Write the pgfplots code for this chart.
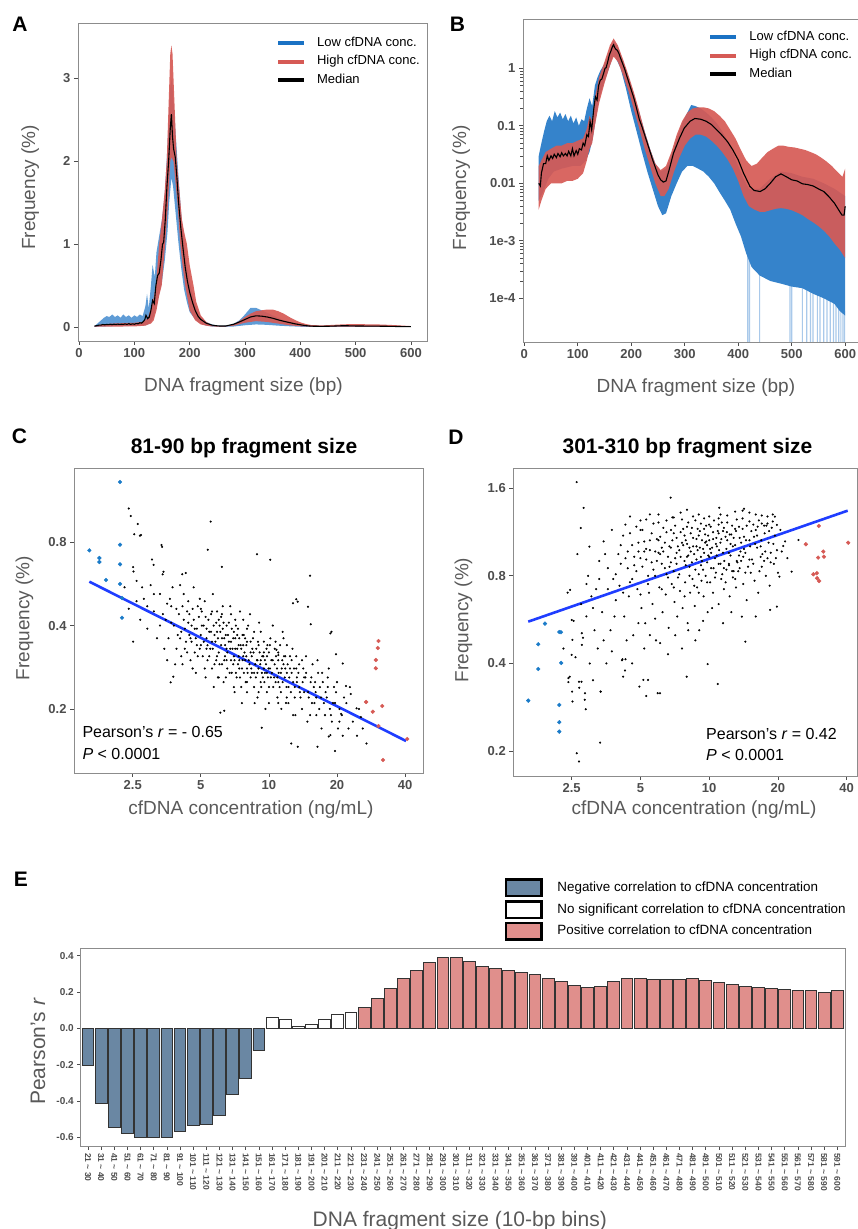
\documentclass[border=0pt]{standalone}
\usepackage{pgfplots}
\pgfplotsset{compat=1.18}
\usepackage{fontspec}
\setmainfont{Liberation Sans}
\definecolor{lowc}{HTML}{1A72C4}
\definecolor{highc}{HTML}{D65A55}
\definecolor{negc}{HTML}{6A87A3}
\definecolor{posc}{HTML}{E08F8C}
\definecolor{tickc}{HTML}{4D4D4D}
\definecolor{labc}{HTML}{595959}
\definecolor{framec}{HTML}{8C8C8C}
\definecolor{regc}{HTML}{1F3DFF}
\definecolor{dotblue}{HTML}{1A7BC8}
\definecolor{dotred}{HTML}{D65A55}
\definecolor{spikec}{HTML}{A9C9EA}
\newcommand\tld{\textasciitilde}
\pgfplotsset{
 base/.style={scale only axis, axis line style={draw=framec, line width=0.7pt},
   tick align=outside, tick pos=left, major tick length=4pt,
   tick style={draw=tickc, line width=0.7pt},
   ticklabel style={font=\fontsize{13}{13}\selectfont\bfseries, text=tickc},
   /pgf/number format/assume math mode=true,
   label style={font=\fontsize{19}{19}\selectfont, text=labc}},
 lineleg/.style={legend style={draw=none, fill=none, inner sep=0pt, row sep=4.5pt,
   font=\fontsize{13}{13}\selectfont, nodes={inner sep=1pt, text height=9pt, text depth=3pt},
   /tikz/every odd column/.append style={column sep=10pt}}, legend cell align=left},
 blackdots/.style={only marks, mark=*, mark size=0.85pt, mark options={draw=none, fill=black}},
 bluedots/.style={only marks, mark=*, mark size=1.9pt, color=dotblue, mark options={draw=none, fill=dotblue}},
 reddots/.style={only marks, mark=*, mark size=1.9pt, color=dotred, mark options={draw=none, fill=dotred}},
}
\begin{document}
\begin{tikzpicture}
\path[use as bounding box] (0pt,0pt) rectangle (858pt,1229pt);
% ---------------- Panel A ----------------
\begin{axis}[base, lineleg, at={(78pt,888pt)}, anchor=south west, width=349pt, height=318pt,
  xmin=-1.8, xmax=629, ymin=-0.17, ymax=3.67, xtick={0,100,...,600}, ytick={0,1,2,3},
  xlabel={DNA fragment size (bp)}, ylabel={Frequency (\%)},
  xlabel style={at={(axis description cs:0.474,-0.160)}, anchor=base},
  ylabel style={at={(axis description cs:-0.1232,0.483)}, anchor=base},
  legend style={at={(axis description cs:0.567,0.959)}, anchor=north west}]
\addplot[draw=none, fill=lowc!70!white, forget plot] coordinates {
(28,0.01) (35,0.05) (40,0.08) (45,0.11) (50,0.13) (55,0.12) (60,0.15) (65,0.12) (70,0.14) (75,0.11) (80,0.15) (85,0.12) (90,0.14) (95,0.11) (100,0.14) (105,0.12) (110,0.15) (115,0.13) (120,0.25) (123,0.40) (126,0.22) (130,0.50) (133,0.75) (137,0.6) (140,0.9) (145,1.1) (150,1.3) (155,1.6) (160,2.2) (165,2.9) (168,3.0) (172,2.6) (176,2.2) (180,1.8) (185,1.35) (190,1.0) (195,0.75) (200,0.55) (205,0.4) (210,0.27) (215,0.18) (220,0.12) (230,0.06) (240,0.03) (250,0.015) (260,0.012) (270,0.02) (280,0.04) (290,0.08) (300,0.15) (310,0.23) (320,0.23) (330,0.2) (340,0.17) (350,0.14) (360,0.11) (370,0.08) (380,0.06) (390,0.04) (400,0.03) (420,0.015) (450,0.01) (500,0.012) (550,0.01) (600,0.005)
(600,0) (500,0) (450,0) (400,0.002) (380,0.008) (360,0.015) (340,0.025) (320,0.03) (300,0.02) (280,0.005) (260,0) (240,0.005) (230,0.015) (220,0.04) (210,0.09) (200,0.18) (195,0.3) (190,0.45) (185,0.7) (180,1.0) (175,1.35) (170,1.7) (167,1.8) (163,1.5) (160,1.15) (155,0.8) (150,0.55) (145,0.4) (140,0.25) (135,0.12) (130,0.06) (125,0.03) (120,0.02) (100,0.012) (80,0.01) (60,0.008) (40,0.003) (28,0)} -- cycle;
\addplot[draw=none, fill=highc, fill opacity=0.92, forget plot] coordinates {
(28,0.01) (40,0.03) (60,0.04) (80,0.045) (100,0.05) (115,0.06) (120,0.08) (125,0.12) (130,0.22) (135,0.35) (139,0.5) (142,0.75) (145,1.0) (150,1.3) (155,1.65) (158.6,2.0) (162,2.7) (165,3.3) (167,3.4) (169,3.3) (172,2.8) (176.7,2.0) (182,1.6) (186,1.3) (190,1.15) (195,1.0) (200,0.75) (207,0.5) (212,0.3) (220,0.14) (230,0.06) (240,0.02) (250,0.01) (260,0.008) (270,0.015) (280,0.035) (290,0.07) (300,0.12) (310,0.16) (320,0.19) (330,0.2) (340,0.21) (350,0.21) (360,0.19) (370,0.16) (380,0.12) (390,0.085) (400,0.055) (410,0.035) (420,0.022) (440,0.018) (460,0.025) (480,0.032) (500,0.033) (520,0.032) (540,0.03) (560,0.025) (580,0.018) (600,0.01)
(600,0.001) (550,0.003) (500,0.004) (450,0.002) (420,0.004) (400,0.008) (380,0.02) (360,0.04) (340,0.06) (320,0.07) (300,0.05) (280,0.015) (260,0.002) (240,0.006) (230,0.015) (220,0.03) (210,0.08) (200,0.2) (192,0.5) (187,0.75) (183,1.0) (178,1.5) (170.7,2.0) (167,2.05) (165,2.0) (163.4,1.8) (160,1.4) (155.6,1.0) (152,0.7) (149.5,0.5) (145,0.38) (140,0.2) (135,0.08) (130,0.04) (125,0.03) (120,0.015) (100,0.006) (60,0.004) (28,0.002)} -- cycle;
\addplot[black, line width=1.1pt, forget plot] coordinates {
(28,0.01) (32,0.015) (36,0.022) (40,0.022) (43,0.03) (46,0.025) (50,0.03) (53,0.027) (56,0.032) (60,0.028) (63,0.033) (67,0.029) (70,0.034) (73,0.03) (77,0.033) (80,0.03) (83,0.036) (87,0.03) (90,0.04) (93,0.03) (97,0.037) (100,0.032) (103,0.04) (107,0.038) (110,0.05) (113,0.045) (117,0.07) (119,0.09) (121,0.14) (124,0.1) (127,0.12) (130,0.2) (133,0.32) (136,0.28) (139,0.5) (142,0.62) (145,0.65) (148,0.8) (151,1.0) (153,1.02) (156,1.3) (159,1.7) (162,2.0) (165,2.4) (167,2.57) (169,2.3) (171,2.15) (174,2.05) (177,1.8) (180,1.5) (184,1.2) (188,0.95) (192,0.72) (196,0.55) (200,0.42) (205,0.3) (210,0.2) (215,0.13) (220,0.09) (230,0.045) (240,0.022) (250,0.013) (255,0.011) (260,0.011) (265,0.011) (270,0.018) (280,0.033) (290,0.06) (300,0.09) (310,0.12) (320,0.134) (330,0.13) (340,0.12) (350,0.105) (360,0.085) (370,0.068) (380,0.053) (390,0.038) (400,0.026) (410,0.015) (420,0.009) (430,0.0075) (440,0.0072) (450,0.008) (460,0.01) (470,0.013) (480,0.0146) (490,0.013) (500,0.0115) (510,0.011) (520,0.0098) (530,0.0095) (540,0.009) (550,0.008) (560,0.0072) (570,0.0058) (580,0.0045) (590,0.0032) (595,0.0028) (598,0.0028) (600,0.004)};
\addlegendimage{legend image code/.code={\draw[line width=4pt, lowc] (0pt,0pt) -- (26pt,0pt);}}
\addlegendentry{Low cfDNA conc.}
\addlegendimage{legend image code/.code={\draw[line width=4pt, highc] (0pt,0pt) -- (26pt,0pt);}}
\addlegendentry{High cfDNA conc.}
\addlegendimage{legend image code/.code={\draw[line width=4pt, black] (0pt,0pt) -- (26pt,0pt);}}
\addlegendentry{Median}
\end{axis}
% ---------------- Panel B ----------------
\begin{axis}[base, lineleg, at={(523pt,887pt)}, anchor=south west, width=335pt, height=323pt,
  ymode=log, xmin=-2.4, xmax=624, ymin=1.74e-5, ymax=7.2, xtick={0,100,...,600},
  ytick={1e-4,1e-3,0.01,0.1,1}, yticklabels={1e-4,1e-3,0.01,0.1,1}, minor ytick={},
  xlabel={DNA fragment size (bp)}, ylabel={Frequency (\%)},
  xlabel style={at={(axis description cs:0.516,-0.157)}, anchor=base},
  ylabel style={at={(axis description cs:-0.170,0.477)}, anchor=base},
  legend style={at={(axis description cs:0.553,0.9653)}, anchor=north west}]
\addplot[spikec, line width=1.2pt, forget plot] coordinates {
(418,7e-4) (418,1e-5) (421,1e-5) (421,6e-4) (440,3.5e-4) (440,1e-5) (497,1e-5) (497,2.2e-4) (500,2.2e-4) (500,1e-5) (520,1e-5) (520,2e-4) (528,1.8e-4) (528,1e-5) (535,1e-5) (535,1.6e-4) (540,1.6e-4) (540,1e-5) (548,1e-5) (548,1.4e-4) (553,1.4e-4) (553,1e-5) (560,1e-5) (560,1.2e-4) (566,1.2e-4) (566,1e-5) (572,1e-5) (572,1e-4) (578,1e-4) (578,1e-5) (583,1e-5) (583,8e-5) (588,8e-5) (588,1e-5) (592,1e-5) (592,7e-5) (596,7e-5) (596,1e-5) (599,1e-5) (599,6e-5)};
\addplot[draw=none, fill=lowc!88!white, forget plot] coordinates {
(27,0.03) (32,0.05) (37,0.08) (42,0.12) (47,0.15) (52,0.12) (57,0.18) (62,0.14) (67,0.17) (72,0.13) (77,0.16) (82,0.12) (87,0.15) (92,0.11) (97,0.14) (102,0.1) (107,0.13) (112,0.12) (117,0.2) (122,0.3) (127,0.22) (132,0.5) (137,0.7) (142,0.9) (150,1.2) (160,2.0) (167,3.0) (175,2.3) (185,1.3) (195,0.7) (205,0.35) (215,0.17) (225,0.08) (235,0.04) (245,0.022) (255,0.016) (265,0.018) (275,0.03) (285,0.06) (295,0.11) (305,0.17) (312,0.23) (320,0.22) (330,0.2) (340,0.17) (350,0.14) (360,0.11) (370,0.08) (380,0.055) (390,0.035) (400,0.02) (410,0.012) (420,0.008) (440,0.008) (460,0.012) (480,0.016) (500,0.015) (520,0.013) (540,0.012) (560,0.01) (580,0.008) (600,0.006)
(600,5e-5) (590,6e-5) (580,8e-5) (560,1e-4) (540,1.2e-4) (520,1.5e-4) (500,1.6e-4) (480,1.8e-4) (460,2e-4) (440,2.5e-4) (425,3.5e-4) (415,6e-4) (405,1.2e-3) (395,2e-3) (385,3.5e-3) (375,5e-3) (365,7e-3) (355,0.01) (345,0.013) (335,0.016) (325,0.018) (315,0.02) (305,0.02) (295,0.016) (285,0.01) (275,0.006) (265,0.003) (258,0.0028) (250,0.004) (240,0.008) (230,0.016) (220,0.035) (210,0.08) (200,0.18) (190,0.45) (180,1.0) (170,1.6) (165,1.6) (160,1.1) (150,0.6) (140,0.3) (133,0.12) (128,0.06) (122,0.035) (115,0.025) (105,0.02) (90,0.02) (70,0.018) (55,0.016) (45,0.012) (35,0.007) (27,0.005)} -- cycle;
\addplot[draw=none, fill=highc, fill opacity=0.92, forget plot] coordinates {
(27,0.02) (32,0.025) (40,0.035) (50,0.04) (60,0.045) (70,0.045) (80,0.05) (90,0.05) (100,0.055) (110,0.06) (117,0.09) (122,0.15) (127,0.12) (132,0.3) (140,0.7) (150,1.3) (160,2.5) (167,3.3) (175,2.5) (185,1.4) (195,0.75) (205,0.38) (215,0.18) (225,0.08) (235,0.04) (245,0.022) (255,0.017) (265,0.02) (275,0.035) (285,0.07) (295,0.12) (305,0.17) (315,0.2) (325,0.21) (335,0.21) (345,0.2) (355,0.18) (365,0.15) (375,0.12) (385,0.085) (395,0.06) (405,0.038) (415,0.025) (425,0.02) (435,0.022) (445,0.028) (455,0.035) (465,0.04) (475,0.045) (485,0.045) (495,0.043) (505,0.042) (515,0.04) (525,0.038) (535,0.035) (545,0.032) (555,0.028) (565,0.024) (575,0.02) (585,0.016) (595,0.013) (600,0.018)
(600,5e-4) (590,7e-4) (580,9e-4) (570,1.2e-3) (560,1.5e-3) (550,1.8e-3) (540,2.1e-3) (530,2.4e-3) (520,2.8e-3) (510,3.1e-3) (500,3.4e-3) (490,3.6e-3) (480,3.7e-3) (470,3.6e-3) (460,3.4e-3) (450,3.2e-3) (440,3.2e-3) (430,3.5e-3) (420,4e-3) (410,6e-3) (400,0.011) (390,0.018) (380,0.026) (370,0.035) (360,0.045) (350,0.055) (340,0.065) (330,0.07) (320,0.07) (310,0.06) (300,0.045) (290,0.028) (280,0.016) (270,0.008) (262,0.006) (255,0.006) (245,0.01) (235,0.02) (225,0.04) (215,0.09) (205,0.19) (195,0.4) (185,0.75) (175,1.3) (167,1.6) (160,1.1) (150,0.55) (140,0.25) (132,0.1) (127,0.05) (122,0.04) (117,0.025) (110,0.015) (100,0.012) (90,0.011) (80,0.011) (70,0.01) (60,0.01) (50,0.01) (40,0.008) (32,0.005) (27,0.0035)} -- cycle;
\addplot[black, line width=1.1pt, forget plot] coordinates {
(27,0.01) (30,0.009) (32,0.015) (36,0.022) (40,0.022) (43,0.03) (46,0.025) (50,0.03) (53,0.027) (56,0.032) (60,0.028) (63,0.033) (67,0.029) (70,0.034) (73,0.03) (77,0.033) (80,0.03) (83,0.036) (87,0.03) (90,0.04) (93,0.03) (97,0.037) (100,0.032) (103,0.04) (107,0.038) (110,0.05) (113,0.045) (117,0.07) (120,0.065) (123,0.12) (126,0.085) (130,0.2) (133,0.32) (136,0.28) (139,0.5) (142,0.62) (145,0.65) (148,0.8) (151,1.0) (153,1.02) (156,1.3) (159,1.7) (162,2.0) (165,2.4) (167,2.57) (169,2.3) (171,2.15) (174,2.05) (177,1.8) (180,1.5) (184,1.2) (188,0.95) (192,0.72) (196,0.55) (200,0.42) (205,0.3) (210,0.2) (215,0.13) (220,0.097) (230,0.05) (240,0.0256) (250,0.014) (255,0.0115) (260,0.0105) (265,0.011) (270,0.016) (279,0.0334) (290,0.06) (299,0.091) (310,0.12) (319,0.134) (330,0.13) (340,0.12) (350,0.105) (360,0.085) (370,0.068) (380,0.053) (390,0.038) (400,0.0256) (410,0.015) (422,0.0088) (430,0.0075) (441,0.0072) (450,0.008) (460,0.01) (470,0.013) (480,0.0146) (490,0.013) (500,0.0115) (510,0.011) (520,0.0098) (530,0.0095) (540,0.009) (550,0.008) (560,0.0072) (570,0.0058) (580,0.0045) (590,0.0032) (594,0.0028) (598,0.0028) (600,0.004)};
\addlegendimage{legend image code/.code={\draw[line width=4pt, lowc] (0pt,0pt) -- (26pt,0pt);}}
\addlegendentry{Low cfDNA conc.}
\addlegendimage{legend image code/.code={\draw[line width=4pt, highc] (0pt,0pt) -- (26pt,0pt);}}
\addlegendentry{High cfDNA conc.}
\addlegendimage{legend image code/.code={\draw[line width=4pt, black] (0pt,0pt) -- (26pt,0pt);}}
\addlegendentry{Median}
\end{axis}
% ---------------- Panel C ----------------
\begin{axis}[base, at={(74pt,456pt)}, anchor=south west, width=349pt, height=305pt,
  xmode=log, ymode=log, xmin=1.375, xmax=48.0, ymin=0.1174, ymax=1.484,
  xtick={2.5,5,10,20,40}, xticklabels={2.5,5,10,20,40}, minor xtick={},
  ytick={0.2,0.4,0.8}, yticklabels={0.2,0.4,0.8}, minor ytick={},
  xlabel={cfDNA concentration (ng/mL)}, ylabel={Frequency (\%)},
  xlabel style={at={(axis description cs:0.507,-0.135)}, anchor=base},
  ylabel style={at={(axis description cs:-0.128,0.508)}, anchor=base}]
\addplot[blackdots] coordinates {
(3.5,0.42) (3.6,0.36) (3.7,0.47) (3.8,0.40) (3.9,0.33) (4.0,0.44) (4.1,0.38) (4.2,0.52) (4.3,0.35) (4.4,0.41) (4.5,0.30) (4.6,0.46) (4.7,0.39) (4.8,0.34) (4.9,0.43) (5.0,0.37) (5.1,0.31) (5.2,0.49) (5.3,0.36) (5.4,0.42) (5.5,0.33) (5.6,0.28) (5.7,0.40) (5.8,0.35) (5.9,0.45) (6.0,0.32) (6.1,0.38) (6.2,0.29) (6.3,0.41) (6.4,0.34) (6.5,0.30) (6.6,0.37) (6.7,0.27) (6.8,0.44) (6.9,0.33) (7.0,0.31) (7.1,0.36) (7.2,0.26) (7.3,0.39) (7.4,0.30) (7.5,0.34) (7.6,0.28) (7.7,0.42) (7.8,0.32) (7.9,0.25) (8.0,0.35) (8.2,0.29) (8.4,0.31) (8.6,0.24) (8.8,0.33) (9.0,0.28) (9.2,0.38) (9.4,0.26) (9.6,0.30) (9.8,0.23) (10.0,0.32) (10.3,0.27) (10.6,0.29) (10.9,0.22) (11.2,0.34) (11.5,0.25) (11.8,0.28) (12.2,0.21) (12.6,0.30) (13.0,0.24) (13.5,0.27) (14.0,0.20) (14.5,0.26) (15.0,0.22) (15.6,0.29) (16.2,0.19) (16.8,0.24) (17.5,0.21) (18.2,0.26) (19.0,0.18) (19.8,0.23) (20.5,0.20) (21.5,0.22) (22.5,0.17)
(3.55,0.30) (3.75,0.55) (3.95,0.37) (4.15,0.29) (4.35,0.45) (4.55,0.40) (4.75,0.27) (4.95,0.50) (5.15,0.40) (5.35,0.30) (5.55,0.44) (5.75,0.37) (5.95,0.26) (6.15,0.43) (6.35,0.36) (6.55,0.32) (6.75,0.47) (6.95,0.29) (7.15,0.40) (7.35,0.34) (7.55,0.24) (7.75,0.37) (7.95,0.31) (8.1,0.40) (8.3,0.26) (8.5,0.36) (8.7,0.29) (8.9,0.22) (9.1,0.32) (9.3,0.27) (9.5,0.35) (9.7,0.29) (9.9,0.26) (10.15,0.36) (10.45,0.24) (10.75,0.31) (11.05,0.27) (11.35,0.20) (11.65,0.31) (11.95,0.24) (12.4,0.28) (12.8,0.19) (13.2,0.31) (13.7,0.23) (14.2,0.28) (14.8,0.18) (15.3,0.25) (15.9,0.21) (16.5,0.27) (17.1,0.17) (17.8,0.23) (18.6,0.20) (19.4,0.24) (20.2,0.17) (21.0,0.19) (22.0,0.21) (23.5,0.18) (24.5,0.16) (26.0,0.17)
(2.3,0.55) (2.4,0.46) (2.6,0.58) (2.7,0.42) (2.8,0.50) (2.9,0.39) (3.0,0.56) (3.1,0.45) (3.2,0.36) (3.3,0.52) (3.4,0.44) (3.45,0.33) (3.65,0.50) (3.85,0.29) (4.05,0.56) (4.25,0.33) (4.45,0.37) (4.65,0.55) (4.85,0.31) (5.05,0.45) (5.25,0.26) (5.45,0.38) (5.65,0.52) (5.85,0.30) (6.05,0.40) (6.25,0.47) (6.45,0.26) (6.65,0.35) (6.85,0.39) (7.05,0.23) (7.25,0.33) (7.45,0.45) (7.65,0.30) (7.85,0.36) (8.05,0.27) (8.25,0.44) (8.45,0.33) (8.65,0.21) (8.85,0.30) (9.05,0.41) (9.25,0.24) (9.45,0.31) (9.65,0.20) (9.85,0.34) (10.1,0.28) (10.4,0.40) (10.7,0.25) (11.0,0.30) (11.3,0.23) (11.6,0.36) (11.9,0.21) (12.3,0.26) (12.7,0.33) (13.1,0.19) (13.6,0.29) (14.1,0.25) (14.6,0.31) (15.2,0.19) (15.8,0.24) (16.4,0.30) (17.0,0.22) (17.7,0.19) (18.4,0.28) (19.2,0.21) (20.0,0.25) (21.2,0.16) (22.8,0.24) (25.0,0.20) (27.0,0.15)
(5.0,0.34) (5.3,0.39) (5.6,0.35) (5.9,0.31) (6.2,0.36) (6.5,0.33) (6.8,0.30) (7.1,0.33) (7.4,0.28) (7.7,0.31) (8.0,0.28) (8.3,0.32) (8.6,0.27) (8.9,0.30) (9.2,0.25) (9.5,0.28) (9.8,0.31) (10.2,0.26) (10.6,0.33) (11.0,0.25) (11.4,0.28) (11.8,0.31) (12.2,0.24) (12.6,0.27) (13.0,0.22) (4.2,0.42) (4.5,0.36) (4.8,0.39) (6.0,0.42) (7.0,0.38) (8.0,0.23) (9.0,0.34) (10.0,0.21) (6.3,0.25) (5.7,0.24) (7.6,0.21) (11.5,0.38) (12.0,0.34) (14.3,0.23) (16.0,0.25) (13.3,0.26)
(4.05,0.36) (4.15,0.47) (4.25,0.39) (4.35,0.32) (4.45,0.44) (4.55,0.35) (4.65,0.42) (4.75,0.36) (4.85,0.47) (4.95,0.33) (5.05,0.40) (5.15,0.35) (5.25,0.43) (5.35,0.34) (5.45,0.31) (5.55,0.38) (5.65,0.33) (5.75,0.29) (5.85,0.41) (5.95,0.36) (6.05,0.29) (6.15,0.34) (6.25,0.39) (6.35,0.30) (6.45,0.37) (6.55,0.28) (6.65,0.41) (6.75,0.33) (6.85,0.27) (6.95,0.36) (7.05,0.30) (7.15,0.27) (7.25,0.37) (7.35,0.31) (7.45,0.26) (7.55,0.33) (7.65,0.37) (7.75,0.27) (7.85,0.30) (7.95,0.34) (8.15,0.30) (8.35,0.28) (8.55,0.32) (8.75,0.26) (8.95,0.35) (9.15,0.29) (9.35,0.31) (9.55,0.25) (9.75,0.33) (9.95,0.28) (10.25,0.30) (10.55,0.26) (10.85,0.28) (11.15,0.24) (11.45,0.30) (11.75,0.26) (12.1,0.29) (12.5,0.23) (12.9,0.28) (13.3,0.25) (13.8,0.22) (14.3,0.26) (14.9,0.23) (15.5,0.21) (16.1,0.23) (16.7,0.20) (17.3,0.25) (18.0,0.22) (18.8,0.19) (19.6,0.21)
(4.1,0.31) (4.4,0.49) (4.7,0.32) (5.0,0.46) (5.3,0.33) (5.6,0.45) (5.9,0.38) (6.2,0.44) (6.5,0.40) (6.8,0.35) (7.1,0.42) (7.4,0.36) (7.7,0.34) (8.0,0.39) (8.3,0.35) (8.6,0.38) (8.9,0.27) (9.2,0.30) (9.5,0.32) (9.8,0.27) (10.1,0.34) (10.4,0.30) (10.7,0.35) (11.0,0.32) (11.3,0.27) (11.6,0.29) (12.0,0.27) (12.4,0.31) (12.8,0.25) (13.2,0.28) (13.6,0.24) (14.0,0.30) (14.6,0.27) (15.4,0.26) (16.2,0.22) (17.2,0.27) (18.2,0.24) (6.0,0.26) (7.0,0.24) (8.0,0.25) (9.0,0.23) (10.0,0.24) (11.0,0.21) (12.0,0.22) (6.4,0.31) (7.3,0.29) (8.4,0.27) (9.6,0.27) (10.9,0.26) (5.2,0.28) (4.6,0.28) (3.9,0.46) (3.7,0.41) (3.3,0.40) (3.1,0.52) (2.9,0.47) (2.6,0.49) (2.75,0.55) (3.55,0.48)
(2.40,1.06) (2.45,0.996) (2.63,0.931) (2.54,0.855) (2.69,0.845) (2.72,0.85) (5.53,0.950) (5.37,0.752) (8.86,0.724) (10.14,0.692) (15.2,0.606) (3.35,0.782) (3.37,0.77) (3.04,0.693) (3.09,0.663) (2.51,0.651) (2.52,0.627) (3.42,0.626) (3.39,0.613) (4.14,0.613) (4.29,0.62) (6.19,0.652) (2.51,0.35) (3.78,0.2615) (3.68,0.2495) (6.1,0.194) (6.35,0.197) (9.3,0.171) (12.56,0.150) (13.41,0.146) (16.4,0.146) (19.6,0.141) (18.4,0.159) (18.7,0.161) (20.85,0.192) (20.5,0.18) (23.0,0.2265) (21.9,0.242) (21.2,0.292) (19.8,0.315) (18.7,0.375) (18.9,0.38) (15.3,0.4045) (12.78,0.482) (13.2,0.498) (13.4,0.488) (14.9,0.468) (24.4,0.201) (25.5,0.187) (10.8,0.327) (11.0,0.313)};
\addplot[bluedots] coordinates {(1.607,0.748) (1.780,0.702) (1.780,0.679) (1.905,0.5845) (2.197,1.321) (2.197,0.784) (2.197,0.666) (2.197,0.5656) (2.242,0.503) (2.242,0.427)};
\addplot[reddots] coordinates {(30.5,0.352) (30.3,0.332) (29.7,0.3005) (29.7,0.2805) (26.9,0.2119) (28.8,0.1955) (31.7,0.205) (30.5,0.1735) (40.9,0.1558) (31.96,0.1308)};
\addplot[regc, line width=2.6pt] coordinates {(1.607,0.5765) (40.4,0.1532)};
\end{axis}
% ---------------- Panel D ----------------
\begin{axis}[base, at={(513.3pt,453pt)}, anchor=south west, width=344.4pt, height=307.7pt,
  xmode=log, ymode=log, xmin=1.388, xmax=44.7, ymin=0.1641, ymax=1.874,
  xtick={2.5,5,10,20,40}, xticklabels={2.5,5,10,20,40}, minor xtick={},
  ytick={0.2,0.4,0.8,1.6}, yticklabels={0.2,0.4,0.8,1.6}, minor ytick={},
  xlabel={cfDNA concentration (ng/mL)}, ylabel={Frequency (\%)},
  xlabel style={at={(axis description cs:0.525,-0.1245)}, anchor=base},
  ylabel style={at={(axis description cs:-0.1307,0.507)}, anchor=base}]
\addplot[blackdots] coordinates {
(4.0,0.95) (4.2,1.10) (4.4,0.85) (4.6,1.02) (4.8,1.18) (5.0,0.92) (5.2,1.05) (5.4,0.80) (5.6,1.12) (5.8,0.97) (6.0,1.22) (6.2,0.88) (6.4,1.04) (6.6,0.93) (6.8,1.15) (7.0,0.83) (7.2,1.08) (7.4,0.98) (7.6,1.25) (7.8,0.90) (8.0,1.03) (8.2,0.86) (8.4,1.17) (8.6,0.95) (8.8,1.07) (9.0,0.81) (9.2,1.21) (9.4,0.99) (9.6,1.11) (9.8,0.89) (10.0,1.28) (10.3,1.00) (10.6,0.92) (10.9,1.14) (11.2,1.30) (11.5,0.96) (11.8,1.09) (12.2,0.87) (12.6,1.19) (13.0,1.02) (13.5,0.94) (14.0,1.16) (14.5,1.06) (15.0,0.91) (15.6,1.20) (16.2,1.00) (16.8,0.93) (17.5,1.12) (18.2,1.04) (19.0,1.23) (19.8,0.98)
(3.8,0.78) (4.1,0.88) (4.3,1.20) (4.5,0.76) (4.7,0.93) (4.9,1.04) (5.1,0.86) (5.3,1.25) (5.5,0.98) (5.7,0.84) (5.9,1.07) (6.1,0.95) (6.3,1.17) (6.5,0.81) (6.7,1.01) (6.9,1.27) (7.1,0.92) (7.3,0.79) (7.5,1.13) (7.7,1.02) (7.9,0.87) (8.1,1.22) (8.3,0.97) (8.5,1.08) (8.7,0.84) (8.9,1.16) (9.1,1.00) (9.3,0.90) (9.5,1.26) (9.7,1.05) (9.9,0.94) (10.15,1.18) (10.45,0.85) (10.75,1.08) (11.05,0.98) (11.35,1.22) (11.65,0.90) (11.95,1.13) (12.4,1.03) (12.8,0.83) (13.2,1.25) (13.7,0.97) (14.2,1.09) (14.8,0.86) (15.3,1.14) (15.9,1.03) (16.5,1.24) (17.1,0.95) (17.8,1.19) (18.6,0.89) (19.4,1.10) (20.5,1.15) (21.5,1.05)
(3.2,0.72) (3.4,0.60) (3.6,0.85) (3.7,0.52) (3.9,0.66) (4.05,0.74) (4.25,0.58) (4.45,0.68) (4.65,0.50) (4.85,0.72) (5.05,0.62) (5.25,0.55) (5.45,0.70) (5.65,0.64) (5.85,0.48) (6.05,0.73) (6.25,0.60) (6.45,0.69) (6.65,0.53) (6.85,0.75) (7.05,0.65) (7.25,0.58) (7.45,0.71) (7.65,0.62) (7.85,0.76) (8.05,0.55) (8.25,0.70) (8.45,0.78) (8.65,0.63) (8.85,0.73) (9.05,0.52) (9.25,0.77) (9.45,0.68) (9.65,0.80) (9.85,0.60) (10.1,0.76) (10.4,0.70) (10.7,0.82) (11.0,0.64) (11.3,0.78) (11.6,0.72) (11.9,0.84) (12.3,0.68) (12.7,0.79) (13.1,0.73) (13.6,0.85) (14.1,0.75) (14.6,0.66) (15.2,0.82) (15.8,0.77) (16.4,0.70) (17.0,0.86) (17.7,0.80) (18.4,0.74) (19.2,0.88) (20.0,0.82)
(4.5,1.28) (5.0,1.15) (5.5,1.30) (6.0,1.06) (6.5,1.24) (7.0,1.12) (7.5,1.32) (8.0,1.18) (8.5,1.28) (9.0,1.10) (9.5,1.16) (10.0,1.06) (10.5,1.24) (11.0,1.20) (11.5,1.14) (12.0,1.29) (12.5,1.11) (13.0,1.33) (13.5,1.18) (14.0,1.26) (15.0,1.32) (16.0,1.15) (17.0,1.29) (18.0,1.21) (19.0,1.30) (5.3,0.99) (6.2,1.00) (7.2,0.96) (8.2,1.00) (9.2,0.93) (10.2,0.96) (11.2,0.88) (12.2,0.96) (13.2,0.90) (14.2,0.99) (6.8,0.89) (7.8,1.10) (8.8,0.91) (9.8,1.02) (10.8,1.01)
(2.3,0.45) (2.4,0.70) (2.45,0.36) (2.55,0.56) (2.6,0.42) (2.65,0.95) (2.7,0.33) (2.75,0.64) (2.8,0.49) (2.85,0.30) (2.9,0.58) (2.95,0.80) (3.0,0.40) (3.05,0.68) (3.1,0.35) (3.15,0.52) (3.25,0.45) (3.3,0.90) (3.35,0.32) (3.45,0.48) (3.55,0.40) (3.75,0.44) (3.85,0.58) (4.15,0.41) (4.35,0.48) (4.6,0.40) (4.9,0.55) (5.2,0.45) (5.5,0.50) (5.8,0.57) (6.1,0.47) (6.6,0.43) (7.1,0.50) (7.6,0.45) (8.1,0.52) (8.7,0.48) (9.4,0.56) (10.3,0.62) (11.5,0.55) (12.5,0.60) (16.0,0.58)
(4.1,1.02) (4.3,0.92) (4.5,1.12) (4.7,0.87) (4.9,0.97) (5.1,1.15) (5.3,0.91) (5.5,1.06) (5.7,1.21) (5.9,0.90) (6.1,1.09) (6.3,0.97) (6.5,1.13) (6.7,0.86) (6.9,1.06) (7.1,1.19) (7.3,1.01) (7.5,0.93) (7.7,1.16) (7.9,1.06) (8.1,0.94) (8.3,1.12) (8.5,1.01) (8.7,1.24) (8.9,0.98) (9.1,1.14) (9.3,1.06) (9.5,0.96) (9.7,1.19) (9.9,1.10) (10.1,0.99) (10.4,1.13) (10.7,1.03) (11.0,1.26) (11.3,1.07) (11.6,1.17) (11.9,0.99) (12.3,1.11) (12.7,1.01) (13.1,1.14) (13.6,1.08) (14.1,0.93) (14.6,1.19) (15.1,1.01) (15.7,1.09) (16.3,1.18) (16.9,1.06) (17.6,0.97) (18.3,1.14) (19.1,1.03)
(4.4,0.97) (4.8,0.83) (5.2,0.97) (5.6,0.89) (6.0,0.96) (6.4,0.85) (6.8,1.00) (7.2,0.88) (7.6,1.04) (8.0,0.93) (8.4,0.89) (8.8,1.01) (9.2,0.87) (9.6,1.04) (10.0,0.93) (10.4,1.07) (10.8,0.94) (11.2,1.04) (11.6,0.85) (12.0,1.06) (12.4,0.94) (12.8,1.08) (13.3,0.89) (13.8,1.04) (14.4,0.96) (15.0,1.06) (15.6,0.88) (16.2,1.10) (16.8,1.01) (17.4,1.19) (18.0,0.92) (18.8,1.17) (5.0,1.24) (6.0,1.30) (7.0,1.27) (8.0,1.35) (9.0,1.30) (10.0,1.20) (11.0,1.12) (12.0,1.22) (13.0,1.16) (14.0,1.34) (15.0,1.23) (16.0,1.30) (17.0,1.21) (18.0,1.28)
(4.2,0.70) (4.6,0.78) (5.0,0.69) (5.4,0.75) (5.8,0.80) (6.2,0.72) (6.6,0.79) (7.0,0.73) (7.4,0.81) (7.8,0.68) (8.2,0.80) (8.6,0.74) (9.0,0.70) (9.4,0.84) (9.8,0.76) (10.2,0.85) (10.6,0.79) (11.0,0.88) (11.4,0.81) (11.8,0.76) (12.2,0.88) (12.6,0.83) (13.0,0.78) (13.4,0.83) (13.8,0.90) (14.4,0.82) (15.4,0.91) (16.6,0.83) (17.4,0.90) (18.6,0.96) (19.6,0.92) (20.8,0.97) (22.0,0.92) (3.6,0.72) (3.9,0.81) (3.5,0.95) (3.3,0.78) (3.1,0.62) (2.9,0.75) (3.45,1.05) (3.75,1.15)
(2.63,1.68) (2.82,1.369) (2.74,1.169) (2.99,1.008) (6.78,1.485) (11.07,1.372) (14.2,1.36) (19.4,1.278) (19.8,1.197) (20.3,0.795) (22.96,0.827) (24.6,1.063) (21.1,1.013) (18.5,0.611) (19.8,0.627) (14.4,0.475) (10.9,0.34) (9.85,0.398) (13.9,0.579) (7.97,0.36) (6.09,0.316) (5.95,0.316) (5.3,0.309) (4.95,0.333) (5.4,0.351) (5.15,0.351) (4.2,0.360) (4.28,0.378) (4.17,0.4135) (4.3,0.4135) (3.33,0.2137) (2.63,0.1965) (2.69,0.184) (2.88,0.2784) (3.35,0.320) (2.86,0.316) (2.76,0.346) (2.69,0.346) (2.51,0.32) (2.52,0.296) (2.42,0.356) (2.42,0.345) (2.5,0.428) (2.52,0.482) (2.5,0.564) (2.46,0.716) (2.77,0.508) (2.77,0.463)};
\addplot[bluedots] coordinates {(1.614,0.298) (1.785,0.4656) (1.785,0.3829) (1.91,0.548) (2.206,0.513) (2.244,0.512) (2.25,0.4016) (2.206,0.288) (2.206,0.2512) (2.206,0.2332)};
\addplot[reddots] coordinates {(26.5,1.027) (30.2,1.187) (28.6,0.810) (29.6,0.817) (29.7,0.785) (30.3,0.768) (30.0,0.924) (31.6,0.969) (31.8,0.931) (40.6,1.040)};
\addplot[regc, line width=2.6pt] coordinates {(1.614,0.5568) (40.4,1.340)};
\end{axis}
% ---------------- Panel E ----------------
\begin{axis}[base, at={(80.7pt,83pt)}, anchor=south west, width=764.3pt, height=197.7pt,
  xmin=-0.555, xmax=57.586, ymin=-0.6485, ymax=0.4408, major tick length=3.5pt,
  ytick={-0.6,-0.4,-0.2,0,0.2,0.4}, yticklabels={-0.6,-0.4,-0.2,0.0,0.2,0.4},
  yticklabel style={font=\fontsize{10}{10}\selectfont\bfseries},
  xtick={0,1,...,57},
  xticklabels={21 \tld{} 30,31 \tld{} 40,41 \tld{} 50,51 \tld{} 60,61 \tld{} 70,71 \tld{} 80,81 \tld{} 90,91 \tld{} 100,101 \tld{} 110,111 \tld{} 120,121 \tld{} 130,131 \tld{} 140,141 \tld{} 150,151 \tld{} 160,161 \tld{} 170,171 \tld{} 180,181 \tld{} 190,191 \tld{} 200,201 \tld{} 210,211 \tld{} 220,221 \tld{} 230,231 \tld{} 240,241 \tld{} 250,251 \tld{} 260,261 \tld{} 270,271 \tld{} 280,281 \tld{} 290,291 \tld{} 300,301 \tld{} 310,311 \tld{} 320,321 \tld{} 330,331 \tld{} 340,341 \tld{} 350,351 \tld{} 360,361 \tld{} 370,371 \tld{} 380,381 \tld{} 390,391 \tld{} 400,401 \tld{} 410,411 \tld{} 420,421 \tld{} 430,431 \tld{} 440,441 \tld{} 450,451 \tld{} 460,461 \tld{} 470,471 \tld{} 480,481 \tld{} 490,491 \tld{} 500,501 \tld{} 510,511 \tld{} 520,521 \tld{} 530,531 \tld{} 540,541 \tld{} 550,551 \tld{} 560,561 \tld{} 570,571 \tld{} 580,581 \tld{} 590,591 \tld{} 600},
  xticklabel style={font=\fontsize{8.5}{8.5}\selectfont\bfseries, rotate=-90, anchor=west},
  xlabel={DNA fragment size (10-bp bins)}, ylabel={Pearson's \textit{r}},
  label style={font=\fontsize{21}{21}\selectfont},
  xlabel style={at={(axis description cs:0.496,-0.408)}, anchor=base},
  ylabel style={at={(axis description cs:-0.0467,0.478)}, anchor=base},
  legend style={at={(axis description cs:0.5548,1.3546)}, anchor=north west, draw=none, fill=none,
    inner sep=0pt, row sep=2.8pt, font=\fontsize{13.4}{13.4}\selectfont,
    nodes={inner sep=1pt, text height=10pt, text depth=3pt},
    /tikz/every odd column/.append style={column sep=13.5pt}}, legend cell align=left]
\addplot[ybar, bar width=0.9, bar shift=0pt, fill=negc, draw=black!80, line width=0.9pt, forget plot] coordinates {
(0,-0.202) (1,-0.413) (2,-0.547) (3,-0.582) (4,-0.599) (5,-0.601) (6,-0.602) (7,-0.567) (8,-0.536) (9,-0.529) (10,-0.479) (11,-0.365) (12,-0.275) (13,-0.121)};
\addplot[ybar, bar width=0.9, bar shift=0pt, fill=white, draw=black!80, line width=0.9pt, forget plot] coordinates {
(14,0.062) (15,0.048) (16,0.011) (17,0.022) (18,0.050) (19,0.077) (20,0.090)};
\addplot[ybar, bar width=0.9, bar shift=0pt, fill=posc, draw=black!80, line width=0.9pt, forget plot] coordinates {
(21,0.116) (22,0.165) (23,0.220) (24,0.277) (25,0.321) (26,0.362) (27,0.389) (28,0.388) (29,0.367) (30,0.342) (31,0.329) (32,0.318) (33,0.307) (34,0.294) (35,0.277) (36,0.257) (37,0.237) (38,0.224) (39,0.230) (40,0.257) (41,0.277) (42,0.277) (43,0.270) (44,0.268) (45,0.268) (46,0.272) (47,0.263) (48,0.252) (49,0.241) (50,0.233) (51,0.224) (52,0.219) (53,0.215) (54,0.209) (55,0.206) (56,0.198) (57,0.208)};
\addlegendimage{legend image code/.code={\draw[fill=negc, draw=black, line width=2.5pt] (1.25pt,-8.25pt) rectangle (36.75pt,8.25pt);}}
\addlegendentry{Negative correlation to cfDNA concentration}
\addlegendimage{legend image code/.code={\draw[fill=white, draw=black, line width=2.5pt] (1.25pt,-8.25pt) rectangle (36.75pt,8.25pt);}}
\addlegendentry{No significant correlation to cfDNA concentration}
\addlegendimage{legend image code/.code={\draw[fill=posc, draw=black, line width=2.5pt] (1.25pt,-8.25pt) rectangle (36.75pt,8.25pt);}}
\addlegendentry{Positive correlation to cfDNA concentration}
\end{axis}
% ---------------- titles, panel letters, annotations ----------------
\node[anchor=base, font=\fontsize{21}{21}\selectfont\bfseries] at (244pt,775.4pt) {81-90 bp fragment size};
\node[anchor=base, font=\fontsize{21}{21}\selectfont\bfseries] at (687.5pt,775.4pt) {301-310 bp fragment size};
\node[anchor=base west, inner sep=0pt, font=\fontsize{16}{16}\selectfont] at (82.3pt,491pt) {Pearson's \textit{r} = - 0.65};
\node[anchor=base west, inner sep=0pt, font=\fontsize{16}{16}\selectfont] at (82.3pt,469.2pt) {\textit{P} < 0.0001};
\node[anchor=base west, inner sep=0pt, font=\fontsize{16}{16}\selectfont] at (706pt,489.2pt) {Pearson's \textit{r} = 0.42};
\node[anchor=base west, inner sep=0pt, font=\fontsize{16}{16}\selectfont] at (706pt,468.2pt) {\textit{P} < 0.0001};
\node[anchor=base, font=\fontsize{21}{21}\selectfont\bfseries] at (20pt,1197.3pt) {A};
\node[anchor=base, font=\fontsize{21}{21}\selectfont\bfseries] at (457.5pt,1197.3pt) {B};
\node[anchor=base, font=\fontsize{21}{21}\selectfont\bfseries] at (19.5pt,785.7pt) {C};
\node[anchor=base, font=\fontsize{21}{21}\selectfont\bfseries] at (456pt,784.5pt) {D};
\node[anchor=base, font=\fontsize{21}{21}\selectfont\bfseries] at (21pt,342.3pt) {E};
\end{tikzpicture}
\end{document}
